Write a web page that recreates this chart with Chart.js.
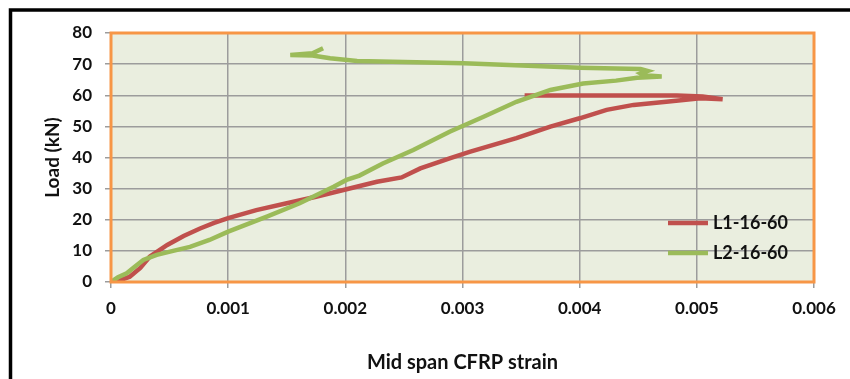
<!DOCTYPE html>
<html>
<head>
<meta charset="utf-8">
<script src="https://cdn.jsdelivr.net/npm/chart.js@4"></script>
<style>
  html, body { margin: 0; padding: 0; background: #fff; }
  #wrap { width: 850px; height: 379px; }
</style>
</head>
<body>
<div id="wrap"><canvas id="loadChart" width="850" height="379"></canvas></div>
<script>
// strain / load readings
const l1Strain = [0, 0.00008, 0.00016, 0.00025, 0.00033, 0.00048, 0.00062, 0.00076, 0.00088, 0.001,
  0.00124, 0.0015, 0.00175, 0.00201, 0.00227, 0.00248, 0.00264, 0.00289, 0.00306, 0.00346,
  0.00375, 0.004, 0.00423, 0.00446, 0.00474, 0.00503, 0.00522, 0.00505, 0.00483, 0.0042, 0.00353]
const l1Load = [0, 0.6, 1.7, 4.5, 8.1, 11.9, 14.8, 17.2, 19.0, 20.5,
  23.1, 25.3, 27.4, 29.8, 32.2, 33.6, 36.5, 39.7, 41.8, 46.2,
  49.9, 52.6, 55.3, 56.9, 57.9, 59.0, 58.7, 59.6, 59.9, 59.9, 59.9]

const l2Strain = [0, 0.00006, 0.000134, 0.0002, 0.000276, 0.00039, 0.00053, 0.000674, 0.00084, 0.001,
  0.00133, 0.00161, 0.0019, 0.00201, 0.00212, 0.00232, 0.00258, 0.00289, 0.00318, 0.00346,
  0.00375, 0.00403, 0.00431, 0.00449, 0.0047, 0.00455, 0.00452, 0.00458, 0.00452, 0.004,
  0.00301, 0.0021, 0.00187, 0.00172, 0.00153, 0.00172, 0.00181]
const l2Load = [0, 1.5, 2.8, 4.8, 7.1, 8.7, 10.0, 11.3, 13.5, 16.2,
  21.0, 25.3, 30.6, 32.8, 34.2, 38.1, 42.4, 48.3, 53.1, 57.9,
  61.7, 63.8, 64.7, 65.6, 66.0, 66.4, 67.0, 67.8, 68.4, 68.8,
  70.3, 71.0, 71.9, 72.8, 72.9, 73.5, 75.1]

const seriesNames = ['L1-16-60', 'L2-16-60']
const xTickLabels = ['0', '0.001', '0.002', '0.003', '0.004', '0.005', '0.006']
const yTickLabels = ['0', '10', '20', '30', '40', '50', '60', '70', '80']

const toPoints = (xs, ys) => xs.map((x, i) => ({ x: x, y: ys[i] }))

const FONT = 'Lato, Carlito, "Open Sans", sans-serif'
const INK = '#111'
const GRID = '#9c9c9c'

// plot background, orange plot border, black outer frame, legend
const decor = {
  id: 'decor',
  beforeDraw(chart) {
    const { ctx, chartArea: a } = chart
    ctx.save()
    ctx.fillStyle = '#fff'
    ctx.fillRect(0, 0, chart.width, chart.height)
    ctx.fillStyle = '#eaeedf'
    ctx.fillRect(a.left, a.top, a.right - a.left, a.bottom - a.top)
    ctx.restore()
  },
  afterDatasetsDraw(chart) {
    const { ctx, chartArea: a } = chart
    ctx.save()
    ctx.strokeStyle = '#f79646'
    ctx.lineWidth = 3
    ctx.strokeRect(a.left, a.top, a.right - a.left, a.bottom - a.top)

    ctx.strokeStyle = '#000'
    ctx.lineWidth = 3.5
    ctx.beginPath()
    ctx.moveTo(10.5, chart.height)
    ctx.lineTo(10.5, 10)
    ctx.lineTo(chart.width, 10)
    ctx.stroke()

    // legend
    ctx.font = 'bold 18px ' + FONT
    ctx.textBaseline = 'middle'
    ctx.textAlign = 'left'
    chart.data.datasets.forEach((ds, i) => {
      const y = 223 + i * 30
      ctx.strokeStyle = ds.borderColor
      ctx.lineWidth = 4.5
      ctx.beginPath()
      ctx.moveTo(668, y)
      ctx.lineTo(708, y)
      ctx.stroke()
      ctx.fillStyle = INK
      ctx.fillText(ds.label, 713, y)
    })
    ctx.restore()
  }
}

new Chart(document.getElementById('loadChart'), {
  type: 'scatter',
  data: {
    datasets: [
      {
        label: seriesNames[0],
        data: toPoints(l1Strain, l1Load),
        showLine: true,
        borderColor: '#c0504d',
        borderWidth: 4.5,
        pointRadius: 0,
        tension: 0,
        order: 2
      },
      {
        label: seriesNames[1],
        data: toPoints(l2Strain, l2Load),
        showLine: true,
        borderColor: '#9bbb59',
        borderWidth: 4.5,
        pointRadius: 0,
        tension: 0,
        order: 1
      }
    ]
  },
  options: {
    responsive: false,
    animation: false,
    layout: { padding: { left: 0, top: 33, right: 36, bottom: 0 } },
    plugins: {
      legend: { display: false },
      tooltip: { enabled: false }
    },
    scales: {
      x: {
        type: 'linear',
        min: 0,
        max: 0.006,
        afterFit: (s) => { s.height = 97 },
        ticks: {
          stepSize: 0.001,
          padding: 10,
          color: INK,
          font: { family: FONT, size: 17, weight: 'bold' },
          maxRotation: 0,
          callback: (v, i) => xTickLabels[i]
        },
        grid: { color: GRID, lineWidth: 1.5, tickLength: 6, tickColor: GRID },
        border: { display: false },
        title: {
          display: true,
          text: 'Mid span CFRP strain',
          color: INK,
          font: { family: FONT, size: 20, weight: 'bold' },
          padding: { top: 0, bottom: 4 }
        }
      },
      y: {
        min: 0,
        max: 80,
        afterFit: (s) => { s.width = 111 },
        ticks: {
          stepSize: 10,
          padding: 13,
          color: INK,
          font: { family: FONT, size: 17, weight: 'bold' },
          callback: (v, i) => yTickLabels[i]
        },
        grid: { color: GRID, lineWidth: 1.5, tickLength: 6, tickColor: GRID },
        border: { display: false },
        title: {
          display: true,
          text: 'Load (kN)',
          color: INK,
          font: { family: FONT, size: 19, weight: 'bold' },
          padding: { top: 41, bottom: 0 }
        }
      }
    }
  },
  plugins: [decor]
})
</script>
</body>
</html>
